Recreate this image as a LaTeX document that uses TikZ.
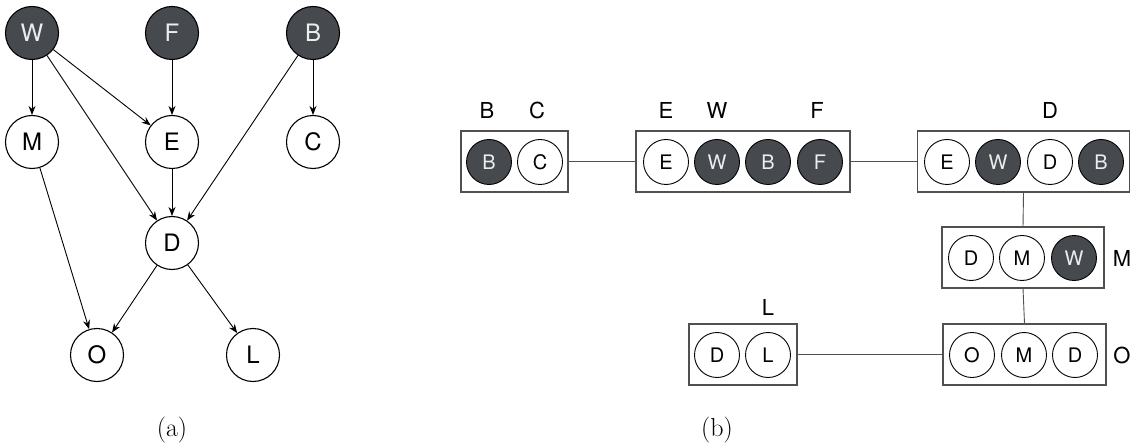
\documentclass[tikz,border=0pt]{standalone}
\usepackage{fontspec}
\newfontfamily\hv{TeX Gyre Heros}
\usetikzlibrary{arrows.meta}
\definecolor{obs}{HTML}{464A4F}
\definecolor{obstext}{HTML}{EDEDED}
\definecolor{boxline}{HTML}{505050}
\tikzset{
  var/.style={circle, draw=black, line width=1.1pt, fill=white, minimum size=53pt, inner sep=0pt,
              font=\hv\fontsize{24}{24}\selectfont},
  obsvar/.style={var, fill=obs, text=obstext},
  cvar/.style={circle, draw=black, line width=0.9pt, fill=white, minimum size=45pt, inner sep=0pt,
               font=\hv\fontsize{20}{20}\selectfont},
  cobs/.style={cvar, fill=obs, text=obstext},
  clique/.style={draw=boxline, line width=1.1pt, minimum height=61pt, inner sep=0pt},
  tag/.style={font=\hv\fontsize{22}{22}\selectfont},
  edge/.style={line width=0.9pt, -{Stealth[length=9pt,width=7pt]}},
  link/.style={line width=0.9pt, draw=boxline},
  caption/.style={font=\fontsize{26}{26}\selectfont}
}
\begin{document}
\begin{tikzpicture}[x=1pt,y=-1pt]
\useasboundingbox (0,0) rectangle (1131,446);

% (a) directed model
\node[obsvar] (W) at (32,33) {W};
\node[obsvar] (F) at (172,33) {F};
\node[obsvar] (B) at (313,33) {B};
\node[var] (M) at (32,142) {M};
\node[var] (E) at (172,142) {E};
\node[var] (C) at (313,142) {C};
\node[var] (D) at (172,243) {D};
\node[var] (O) at (97,355) {O};
\node[var] (L) at (253,355) {L};

\draw[edge] (W) -- (M);
\draw[edge] (W) -- (E);
\draw[edge] (W) -- (D);
\draw[edge] (F) -- (E);
\draw[edge] (B) -- (C);
\draw[edge] (B) -- (D);
\draw[edge] (E) -- (D);
\draw[edge] (M) -- (O);
\draw[edge] (D) -- (O);
\draw[edge] (D) -- (L);

\node[caption] (capa) at (172,430) {(a)};

% (b) clique tree
\node[clique, minimum width=107pt] (bc) at (514.5,161.5) {};
\node[clique, minimum width=214pt] (ewbf) at (743,161.5) {};
\node[clique, minimum width=212pt] (ewdb) at (1023.5,161.5) {};
\node[clique, minimum width=162pt] (dmw) at (1023,257.5) {};
\node[clique, minimum width=163pt] (omd) at (1024.5,354.5) {};
\node[clique, minimum width=108pt] (dl) at (743,354.5) {};

\draw[link] (bc.east) -- (ewbf.west);
\draw[link] (ewbf.east) -- (ewdb.west);
\draw[link] (ewdb.south) -- (dmw.north);
\draw[link] (dmw.south) -- (omd.north);
\draw[link] (dl.east) -- (omd.west);

% variables inside each clique
\node[cobs] (bcB) at (489,162) {B};
\node[cvar] (bcC) at (540,162) {C};

\node[cvar] (e1E) at (666,162) {E};
\node[cobs] (e1W) at (717,162) {W};
\node[cobs] (e1B) at (768,162) {B};
\node[cobs] (e1F) at (820,162) {F};

\node[cvar] (e2E) at (947,162) {E};
\node[cobs] (e2W) at (998,162) {W};
\node[cvar] (e2D) at (1050,162) {D};
\node[cobs] (e2B) at (1101,162) {B};

\node[cvar] (mD) at (971,258) {D};
\node[cvar] (mM) at (1022,258) {M};
\node[cobs] (mW) at (1074,258) {W};

\node[cvar] (oO) at (972,355) {O};
\node[cvar] (oM) at (1024,355) {M};
\node[cvar] (oD) at (1075,355) {D};

\node[cvar] (lD) at (717,355) {D};
\node[cvar] (lL) at (768,355) {L};

% clique labels
\node[tag] (tB) at (487,110) {B};
\node[tag] (tC) at (537,110) {C};
\node[tag] (tE) at (666,110) {E};
\node[tag] (tW) at (717,110) {W};
\node[tag] (tF) at (817,110) {F};
\node[tag] (tD) at (1050,110) {D};
\node[tag] (tM) at (1122,258) {M};
\node[tag] (tO) at (1122,355) {O};
\node[tag] (tL) at (768,307) {L};

\node[caption] (capb) at (717,430) {(b)};
\end{tikzpicture}
\end{document}
